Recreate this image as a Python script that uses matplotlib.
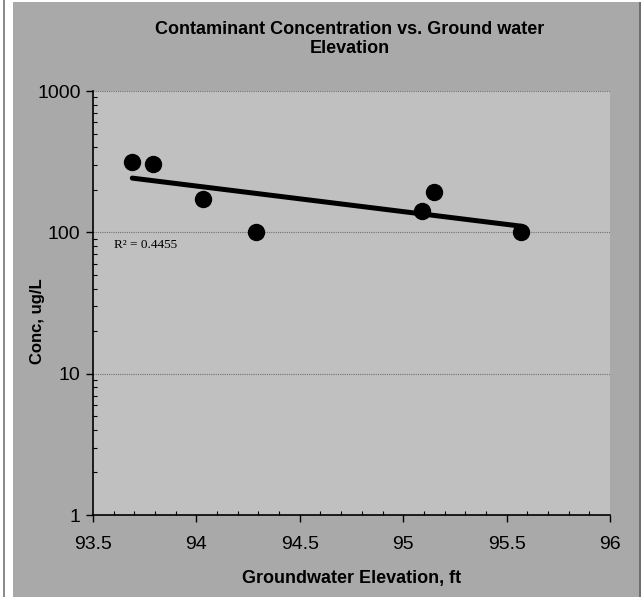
import matplotlib.pyplot as plt
import numpy as np
from matplotlib.patches import Rectangle
from matplotlib.ticker import FixedLocator, NullFormatter

# data
elevation = [93.69, 93.79, 94.03, 94.29, 95.09, 95.15, 95.57]
conc = [312, 302, 171, 100, 141, 192, 100]

title = "Contaminant Concentration vs. Ground water\nElevation"
x_label = "Groundwater Elevation, ft"
y_label = "Conc, ug/L"
r2_label = "R² = 0.4455"
x_ticks = [93.5, 94, 94.5, 95, 95.5, 96]
x_tick_labels = ["93.5", "94", "94.5", "95", "95.5", "96"]
y_ticks = [1, 10, 100, 1000]
y_tick_labels = ["1", "10", "100", "1000"]

plt.rcParams['font.family'] = ['Liberation Sans', 'DejaVu Sans']

fig = plt.figure(figsize=(6.43, 5.97), dpi=100)
fig.patch.set_facecolor('white')

# chart area background like the spreadsheet chart
W, H = 643, 597
fig.add_artist(Rectangle((13 / W, 0), 627 / W, 595 / H, transform=fig.transFigure,
                         facecolor='#a9a9a9', edgecolor='none', zorder=-10))
fig.add_artist(Rectangle((639 / W, 0), 2 / W, 595 / H, transform=fig.transFigure,
                         facecolor='#6e6e6e', edgecolor='none', zorder=-9))
fig.add_artist(Rectangle((3 / W, 0), 1.5 / W, 1, transform=fig.transFigure,
                         facecolor='#8c8c8c', edgecolor='none', zorder=-9))

ax = fig.add_axes([93 / W, 1 - 515 / H, 517 / W, 424 / H])
ax.set_facecolor('#c0c0c0')

ax.set_yscale('log')
ax.set_xlim(93.5, 96)
ax.set_ylim(1, 1000)

# exponential trend line (least squares on log values)
x = np.array(elevation)
y = np.array(conc)
b, a = np.polyfit(x, np.log(y), 1)
xf = np.array([x.min(), x.max()])
ax.plot(xf, np.exp(a + b * xf), color='black', linewidth=3.6, solid_capstyle='round', zorder=3)

ax.plot(elevation, conc, 'o', color='black', markersize=11.5, zorder=4)

ax.text(93.6, 78, r2_label, fontsize=9.5, family=['Liberation Serif', 'DejaVu Serif'])

# gridlines
for yv in [10, 100, 1000]:
    ax.axhline(yv, color='#707070', linewidth=0.8, linestyle=(0, (1, 1)), zorder=1)

for s in ['top', 'right']:
    ax.spines[s].set_visible(False)
for s in ['left', 'bottom']:
    ax.spines[s].set_color('black')
    ax.spines[s].set_linewidth(1.2)

ax.xaxis.set_major_locator(FixedLocator(x_ticks))
ax.set_xticklabels(x_tick_labels)
ax.xaxis.set_minor_locator(FixedLocator(np.arange(93.6, 96, 0.1)))
ax.yaxis.set_major_locator(FixedLocator(y_ticks))
ax.set_yticklabels(y_tick_labels)
ax.yaxis.set_minor_formatter(NullFormatter())

ax.tick_params(which='major', direction='out', length=5, width=1, labelsize=14, colors='black', pad=4)
ax.tick_params(axis='x', which='major', pad=10)
ax.tick_params(which='minor', direction='in', length=3, width=0.8, colors='black')

ax.set_xlabel(x_label, fontsize=13, fontweight='bold', va='center')
ax.xaxis.set_label_coords(0.5, -(578 - 515) / 424)
ax.set_ylabel(y_label, fontsize=12, fontweight='bold', va='center')
ax.yaxis.set_label_coords((37 - 93) / 517, (515 - 321) / 424)

fig.text(350 / W, 1 - 39 / H, title, ha='center', va='center', fontsize=13,
         fontweight='bold', linespacing=1.15)

fig.savefig('out.png', dpi=100)
